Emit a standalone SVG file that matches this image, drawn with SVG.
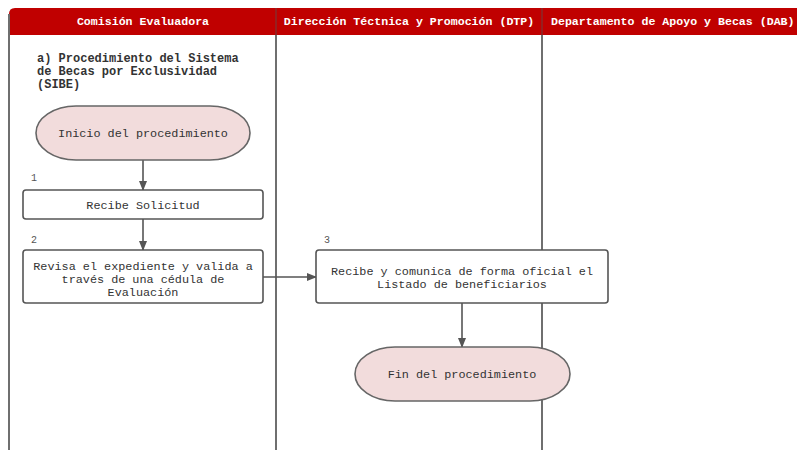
<svg xmlns="http://www.w3.org/2000/svg" width="797" height="450" viewBox="0 0 797 450">
<defs>
<style>
.lane{stroke:#6f6f6f;stroke-width:2;fill:none}
.hdr{fill:#c00000}
.ht{font-family:"Liberation Mono",monospace;font-weight:bold;font-size:11.6px;fill:#ffffff}
.t{font-family:"Liberation Mono",monospace;font-size:11.8px;fill:#333333}
.tb{font-family:"Liberation Mono",monospace;font-weight:bold;font-size:12px;fill:#333333}
.n{font-family:"Liberation Mono",monospace;font-size:10px;fill:#555555}
.box{fill:#ffffff;stroke:#555555;stroke-width:1.6}
.term{fill:#f2dcdc;stroke:#666666;stroke-width:1.6}
.edge{stroke:#555555;stroke-width:1.6;fill:none}
</style>
<marker id="ah" markerWidth="10" markerHeight="10" refX="9" refY="5" orient="auto" markerUnits="userSpaceOnUse">
<path d="M0,1 L10,5 L0,9 Z" fill="#555555"/>
</marker>
</defs>
<rect width="797" height="450" fill="#ffffff"/>
<g id="lanes">
<path class="hdr" d="M9,14 Q9,8 15,8 L797,8 L797,35 L9,35 Z"/>
<line x1="276" y1="8" x2="276" y2="35" stroke="#8a2a2a" stroke-width="1.5"/>
<line x1="542" y1="8" x2="542" y2="35" stroke="#8a2a2a" stroke-width="1.5"/>
<line class="lane" x1="9" y1="14" x2="9" y2="450"/>
<line class="lane" x1="276" y1="35" x2="276" y2="450"/>
<line class="lane" x1="542" y1="35" x2="542" y2="450"/>
<text class="ht" x="143" y="25" text-anchor="middle">Comisión Evaluadora</text>
<text class="ht" x="409" y="25" text-anchor="middle">Dirección Téctnica y Promoción (DTP)</text>
<text class="ht" x="551" y="25">Departamento de Apoyo y Becas (DAB)</text>
</g>
<g id="title">
<text class="tb" x="37" y="62">a) Procedimiento del Sistema</text>
<text class="tb" x="37" y="75">de Becas por Exclusividad</text>
<text class="tb" x="37" y="88">(SIBE)</text>
</g>
<g id="connectors">
<line class="edge" x1="143" y1="160" x2="143" y2="190" marker-end="url(#ah)"/>
<line class="edge" x1="143" y1="219" x2="143" y2="250" marker-end="url(#ah)"/>
<line class="edge" x1="263" y1="277" x2="316" y2="277" marker-end="url(#ah)"/>
<line class="edge" x1="462" y1="303" x2="462" y2="347" marker-end="url(#ah)"/>
</g>
<g id="inicio">
<rect class="term" x="36" y="106" width="214" height="54" rx="40" ry="27"/>
<text class="t" x="143" y="137" text-anchor="middle">Inicio del procedimiento</text>
</g>
<g id="step1">
<text class="n" x="31" y="181">1</text>
<rect class="box" x="23" y="190" width="240" height="29" rx="3"/>
<text class="t" x="143" y="209" text-anchor="middle">Recibe Solicitud</text>
</g>
<g id="step2">
<text class="n" x="31" y="243">2</text>
<rect class="box" x="23" y="250" width="240" height="53" rx="3"/>
<text class="t" x="143" y="270" text-anchor="middle">Revisa el expediente y valida a</text>
<text class="t" x="143" y="283" text-anchor="middle">través de una cédula de</text>
<text class="t" x="143" y="296" text-anchor="middle">Evaluación</text>
</g>
<g id="step3">
<text class="n" x="324" y="243">3</text>
<rect class="box" x="316" y="250" width="292" height="53" rx="3"/>
<text class="t" x="462" y="275" text-anchor="middle">Recibe y comunica de forma oficial el</text>
<text class="t" x="462" y="288" text-anchor="middle">Listado de beneficiarios</text>
</g>
<g id="fin">
<rect class="term" x="355" y="347" width="215" height="54" rx="40" ry="27"/>
<text class="t" x="462" y="378" text-anchor="middle">Fin del procedimiento</text>
</g>
</svg>
